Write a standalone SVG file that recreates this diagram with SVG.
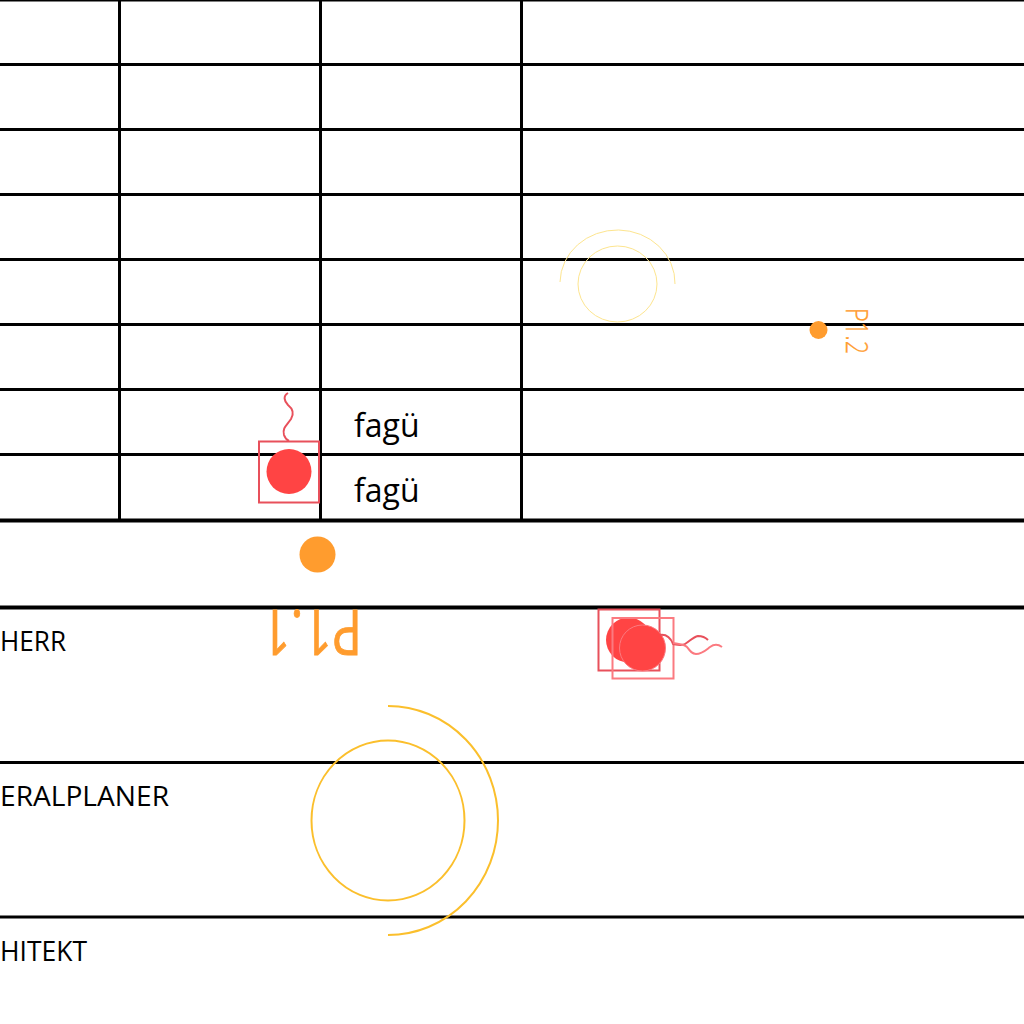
<svg xmlns="http://www.w3.org/2000/svg" width="1024" height="1024" viewBox="0 0 1024 1024">
<style>
.g{stroke:#000;stroke-width:3;fill:none}
.t{font-family:"Open Sans","Noto Sans",sans-serif;fill:#000;font-size:32px}
.l{font-family:"Open Sans","Noto Sans",sans-serif;fill:#000;font-size:28px}
.o{font-family:"Open Sans","Noto Sans",sans-serif;fill:#ff9c2e}
.r{fill:#ff4444}
.rs{fill:none;stroke:#e8505b;stroke-width:2}
.rl{fill:none;stroke:#fb7a80;stroke-width:2}
</style>
<rect width="1024" height="1024" fill="#fff"/>
<g id="grid">
<path class="g" d="M0 0H1024M0 64.500H1024M0 129.500H1024M0 194.500H1024M0 259.500H1024M0 324.500H1024M0 389.500H1024M0 454.500H1024M0 762.500H1024M0 917H1024M119.500 0V520M320.500 0V520M521.500 0V520"/>
<path class="g" style="stroke-width:4" d="M0 520.500H1024M0 607.500H1024"/>
</g>
<g id="labels">
<text class="t" x="354" y="437">fagü</text>
<text class="t" x="354" y="502">fagü</text>
<text class="l" x="0" y="651" textLength="66" lengthAdjust="spacingAndGlyphs">HERR</text>
<text class="l" x="0" y="806" textLength="169" lengthAdjust="spacingAndGlyphs">ERALPLANER</text>
<text class="l" x="0" y="961" textLength="87" lengthAdjust="spacingAndGlyphs">HITEKT</text>
</g>
<g id="node-p11">
<circle cx="317.500" cy="554.500" r="18" fill="#ff9c2e"/>
<text class="o" font-size="63" font-weight="500" stroke="#ff9c2e" stroke-width=".8" transform="translate(362 610) rotate(180) scale(.79 1)">P1.1</text>
</g>
<g id="node-p12">
<circle cx="818.500" cy="330" r="9" fill="#ff9c2e"/>
<text class="o" font-size="31" font-weight="300" stroke="#ff9c2e" stroke-width=".3" transform="translate(846 308) rotate(90) scale(.76 1)">P1.2</text>
</g>
<g id="node-a">
<rect class="rs" x="259" y="441.500" width="60" height="61"/>
<circle class="r" cx="289" cy="471.500" r="22.500"/>
<path class="rs" d="M288 393C283 396 284 401 288 405C293 409 294 414 291 419C287 425 282 428 284 435C285 438 287 440 289 441"/>
</g>
<g id="node-b">
<rect class="rs" x="598.500" y="609.500" width="61" height="61"/>
<circle class="r" cx="628.500" cy="640" r="22.500"/>
</g>
<g id="node-c">
<rect class="rl" x="612.500" y="618" width="61" height="60.500"/>
<circle class="r" cx="642.500" cy="648" r="23" stroke="#fb7a80" stroke-width="1"/>
<path class="rs" d="M660 635C667 634 671 639 673 644C678 645 682 646 685 644C690 641 693 637 698 636C703 636 706 638 708 640"/>
<path class="rl" d="M673 643C680 644 684 644 687 647C690 651 692 654 696 654C702 654 706 650 710 647C714 644 718 644 722 647" stroke-width="1.500"/>
</g>
<g id="arcs-large" fill="none" stroke="#fbbf2c" stroke-width="2">
<ellipse cx="388" cy="820.500" rx="76.500" ry="80"/>
<path d="M388 706A110 114.500 0 0 1 388 935"/>
</g>
<g id="arcs-small" fill="none" stroke="#fde58f" stroke-width="1">
<ellipse cx="617.500" cy="284" rx="39.500" ry="38"/>
<path d="M560 282A57.500 53 0 0 1 675 284"/>
</g>
</svg>
